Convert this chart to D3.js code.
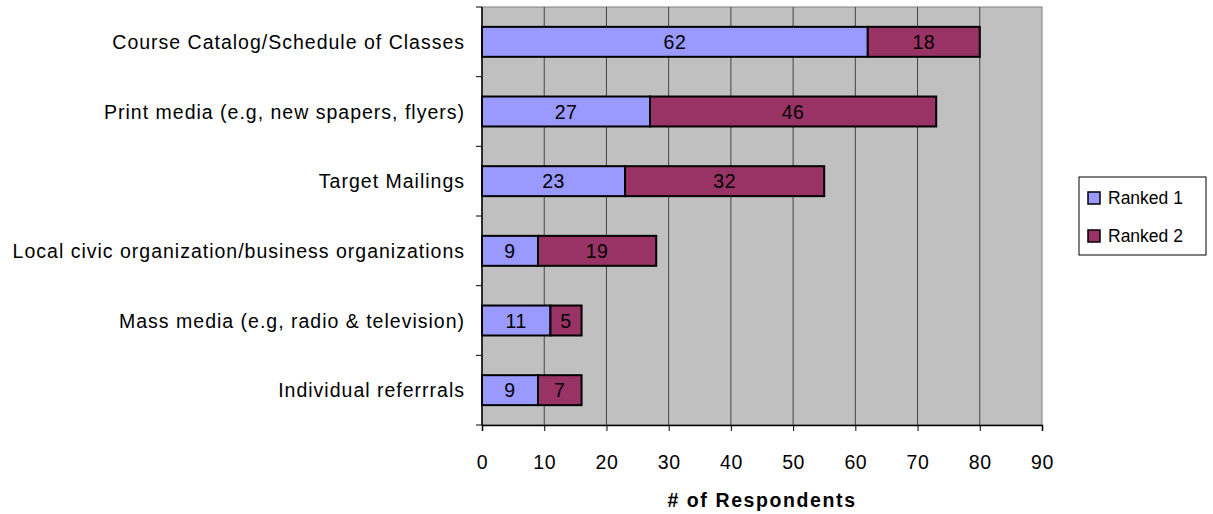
<!DOCTYPE html>
<html><head><meta charset="utf-8">
<script src="https://cdn.jsdelivr.net/npm/d3@7"></script>
<style>body{margin:0;background:#fff}svg{display:block;font-family:"Liberation Sans",Arial,sans-serif}</style>
</head><body><svg id="c" width="1213" height="514"></svg>
<script>
const categories = ["Course Catalog/Schedule of Classes","Print media (e.g, new spapers, flyers)","Target Mailings","Local civic organization/business organizations","Mass media (e.g, radio & television)","Individual referrrals"];
const ranked1 = [62,27,23,9,11,9];
const ranked2 = [18,46,32,19,5,7];
const seriesNames = ["Ranked 1","Ranked 2"];
const xTicks = [0,10,20,30,40,50,60,70,80,90];
const colors = ["#9999FF","#993366"];

const svg = d3.select("#c");
const L=482, R=1042, T=7, B=425;
const x = d3.scaleLinear().domain([0,90]).range([L,R]);
const y = d3.scaleBand().domain(categories).range([T,B]).paddingInner(0.57).paddingOuter(0.285);

svg.append("rect").attr("x",L).attr("y",T).attr("width",R-L).attr("height",B-T).attr("fill","#C0C0C0").attr("stroke","#808080");
svg.append("g").selectAll("line").data(xTicks.slice(1,-1)).join("line")
  .attr("x1",d=>x(d)).attr("x2",d=>x(d)).attr("y1",T).attr("y2",B).attr("stroke","#444").attr("stroke-width",1);

const stacked = categories.map((c,i)=>({c,vals:[ranked1[i],ranked2[i]]}));
stacked.forEach(d=>{
  let acc=0;
  d.vals.forEach((v,j)=>{
    svg.append("rect").attr("x",x(acc)).attr("y",y(d.c)).attr("width",x(acc+v)-x(acc)).attr("height",y.bandwidth())
      .attr("fill",colors[j]).attr("stroke","#000").attr("stroke-width",2);
    svg.append("text").attr("x",(x(acc)+x(acc+v))/2).attr("y",y(d.c)+y.bandwidth()/2).attr("dy","0.36em")
      .attr("text-anchor","middle").attr("font-size",19.5).attr("letter-spacing",0.5).attr("fill","#000").text(v);
    acc+=v;
  });
});

// x axis
const xa = svg.append("g").attr("transform",`translate(0,${B})`).call(d3.axisBottom(x).tickValues(xTicks).tickSize(6).tickPadding(24));
xa.select(".domain").attr("stroke","#000").attr("stroke-width",1.5);
xa.selectAll("text").attr("font-size",19.5).attr("letter-spacing",0.6).attr("font-family","Liberation Sans, Arial, sans-serif").attr("fill","#000");
// y axis
const yb = d3.scaleLinear().domain([0,6]).range([T,B]);
const ya = svg.append("g");
ya.append("line").attr("x1",L).attr("x2",L).attr("y1",T).attr("y2",B).attr("stroke","#000").attr("stroke-width",1.5);
ya.selectAll("line.t").data(d3.range(7)).join("line").attr("class","t")
  .attr("x1",L-6).attr("x2",L).attr("y1",d=>yb(d)).attr("y2",d=>yb(d)).attr("stroke","#000");
ya.selectAll("text").data(categories).join("text").attr("x",L-17).attr("y",d=>y(d)+y.bandwidth()/2).attr("dy","0.36em")
  .attr("text-anchor","end").attr("font-size",19.5).attr("letter-spacing",1.0).attr("fill","#000").text(d=>d);

svg.append("text").attr("x",(L+R)/2).attr("y",507).attr("text-anchor","middle").attr("font-size",19.5).attr("letter-spacing",1.6).attr("font-weight","bold").text("# of Respondents");

// legend
const lg = svg.append("g");
lg.append("rect").attr("x",1079).attr("y",177).attr("width",127).attr("height",78).attr("fill","#fff").attr("stroke","#000");
seriesNames.forEach((n,i)=>{
  const yy = 198 + i*38;
  lg.append("rect").attr("x",1088).attr("y",yy-6).attr("width",12).attr("height",12).attr("fill",colors[i]).attr("stroke","#000").attr("stroke-width",1.5);
  lg.append("text").attr("x",1108).attr("y",yy).attr("dy","0.36em").attr("font-size",17.5).text(n);
});
</script></body></html>
